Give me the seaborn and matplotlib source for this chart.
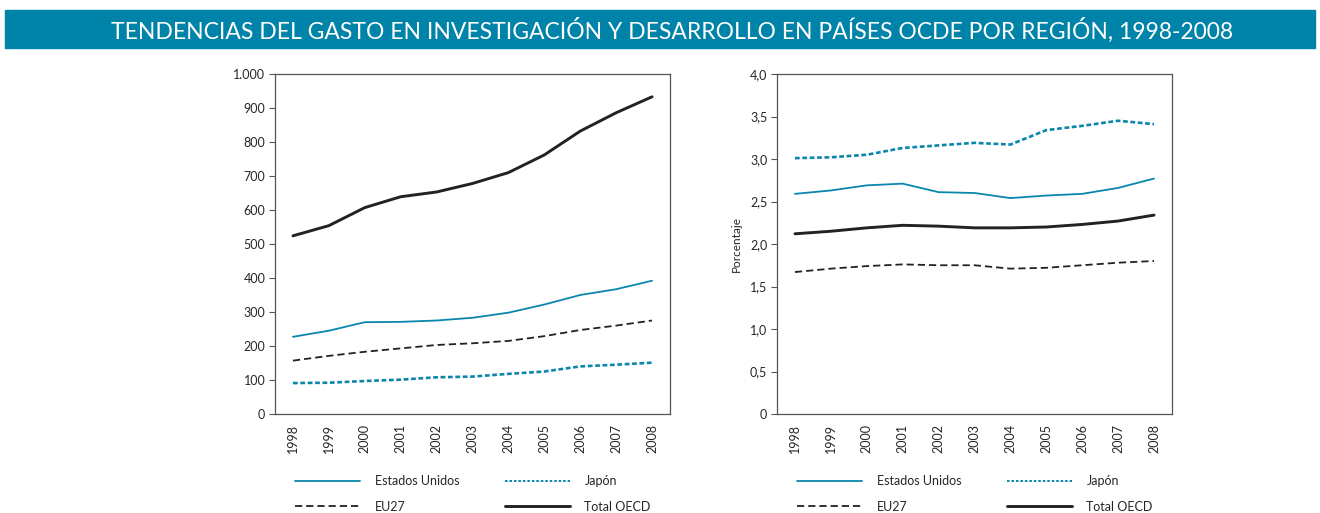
import numpy as np
import pandas as pd
import matplotlib
matplotlib.use("Agg")
import matplotlib.pyplot as plt
import seaborn as sns
from matplotlib.patches import Rectangle
from matplotlib.lines import Line2D
from matplotlib.ticker import FuncFormatter

# ==================== DATA ====================
years = [str(y) for y in range(1998, 2009)]

# gasto en I+D (miles de millones)
gasto_eeuu = [227, 245, 270, 271, 275, 283, 298, 322, 350, 367, 392]
gasto_japon = [91, 92, 97, 101, 108, 110, 118, 125, 140, 145, 151]
gasto_eu27 = [157, 171, 183, 193, 203, 208, 215, 229, 247, 260, 275]
gasto_oecd = [524, 554, 607, 639, 653, 678, 710, 762, 832, 886, 933]

# gasto en I+D como porcentaje del PIB
pct_eeuu = [2.59, 2.63, 2.69, 2.71, 2.61, 2.60, 2.54, 2.57, 2.59, 2.66, 2.77]
pct_japon = [3.01, 3.02, 3.05, 3.13, 3.16, 3.19, 3.17, 3.34, 3.39, 3.45, 3.41]
pct_eu27 = [1.67, 1.71, 1.74, 1.76, 1.75, 1.75, 1.71, 1.72, 1.75, 1.78, 1.80]
pct_oecd = [2.12, 2.15, 2.19, 2.22, 2.21, 2.19, 2.19, 2.20, 2.23, 2.27, 2.34]

series_names = ["Estados Unidos", "EU27", "Japón", "Total OECD"]

TEAL = "#0a86ad"
BANNER = "#0083a8"
styles = {
    "Estados Unidos": dict(color=TEAL, linestyle="-", lw=1.3),
    "EU27": dict(color="#222222", linestyle=(0, (4, 2.2)), lw=1.3),
    "Japón": dict(color=TEAL, linestyle=(0, (1.8, 1.0)), lw=1.9),
    "Total OECD": dict(color="#222222", linestyle="-", lw=2.1),
}
# legend swatches are a touch finer than the plotted lines
legend_styles = dict(styles)
legend_styles["Japón"] = dict(color=TEAL, linestyle=(0, (1.3, 1.0)), lw=1.4)

sns.set_style("white")
plt.rcParams["font.family"] = ["Lato", "DejaVu Sans"]

fig = plt.figure(figsize=(13.2, 5.13), dpi=100)

# ==================== TITLE BANNER ====================
fig.patches.append(Rectangle((5 / 1320, 1 - 48 / 513), 1310 / 1320, 38 / 513,
                             transform=fig.transFigure, color=BANNER, zorder=0))
fig.text(672 / 1320, 1 - 30 / 513,
         "TENDENCIAS DEL GASTO EN INVESTIGACIÓN Y DESARROLLO EN PAÍSES OCDE POR REGIÓN, 1998-2008",
         color="white", fontsize=16.5, ha="center", va="center")


def draw_panel(ax, data, ylim, yticks, fmt):
    df = pd.DataFrame({"pos": np.arange(len(years))})
    for name in series_names:
        df[name] = data[name]
        sns.lineplot(data=df, x="pos", y=name, ax=ax, legend=False, **styles[name])
    ax.set_xlim(-0.5, len(years) - 0.5)
    ax.set_ylim(*ylim)
    ax.set_yticks(yticks)
    ax.yaxis.set_major_formatter(FuncFormatter(fmt))
    # ticks at category boundaries, labels centred
    ax.set_xticks(np.arange(-0.5, len(years), 1.0))
    ax.set_xticklabels([])
    ax.set_xticks(np.arange(len(years)), minor=True)
    ax.set_xticklabels(years, minor=True, rotation=90, fontsize=9)
    ax.tick_params(axis="x", which="major", length=5, width=0.8, color="#555555", direction="out")
    ax.tick_params(axis="x", which="minor", length=0, pad=7)
    ax.tick_params(axis="y", length=4, width=0.8, color="#555555", labelsize=9, pad=3, left=True)
    ax.set_xlabel("")
    ax.set_ylabel("")
    for sp in ax.spines.values():
        sp.set_color("#555555")
        sp.set_linewidth(0.9)


def fmt_thousands(v, pos):
    return f"{int(v):,}".replace(",", ".")


def fmt_decimal(v, pos):
    return "0" if v == 0 else f"{v:.1f}".replace(".", ",")


ax1 = fig.add_axes([275 / 1320, 1 - 414 / 513, 395 / 1320, 340 / 513])
draw_panel(ax1, {"Estados Unidos": gasto_eeuu, "EU27": gasto_eu27,
                 "Japón": gasto_japon, "Total OECD": gasto_oecd},
           (0, 1000), np.arange(0, 1001, 100), fmt_thousands)

ax2 = fig.add_axes([777 / 1320, 1 - 414 / 513, 395 / 1320, 340 / 513])
draw_panel(ax2, {"Estados Unidos": pct_eeuu, "EU27": pct_eu27,
                 "Japón": pct_japon, "Total OECD": pct_oecd},
           (0, 4.0), np.arange(0, 4.01, 0.5), fmt_decimal)
ax2.set_ylabel("Porcentaje", fontsize=8.5, labelpad=6)

# ==================== LEGENDS ====================
for x0 in [295, 797]:
    handles = [Line2D([], [], **legend_styles[n]) for n in series_names]
    fig.legend(handles, series_names, ncol=2, loc="upper left",
               bbox_to_anchor=(x0 / 1320, 1 - 475 / 513), frameon=False,
               fontsize=9, handlelength=5.2, handletextpad=1.2,
               columnspacing=3.6, labelspacing=1.1, borderpad=0, borderaxespad=0)

fig.savefig("out.png", dpi=100)
